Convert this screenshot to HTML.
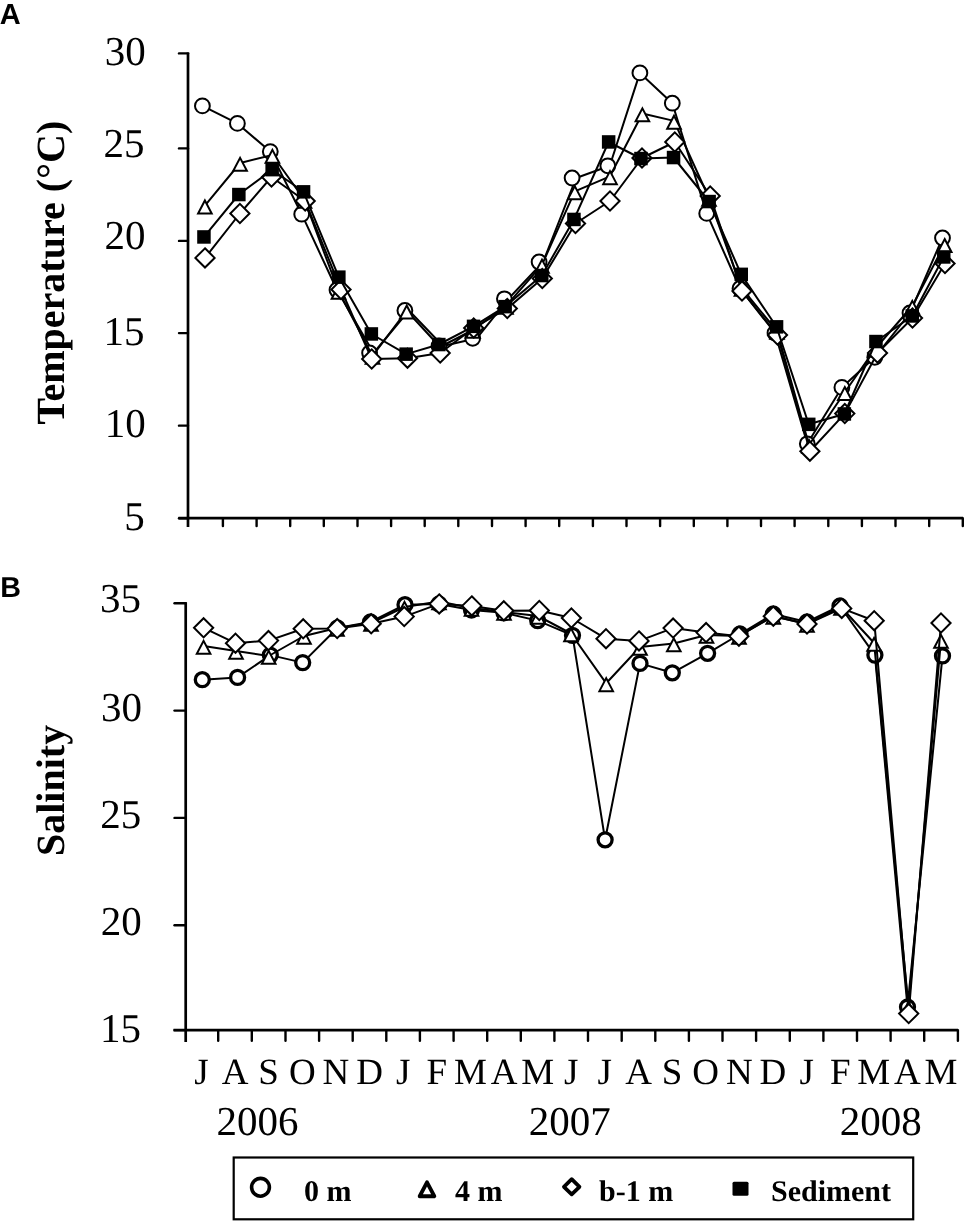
<!DOCTYPE html>
<html><head><meta charset="utf-8"><style>html,body{margin:0;padding:0;background:#fff;}svg{display:block;filter:grayscale(100%);text-rendering:geometricPrecision;}</style></head><body>
<svg width="964" height="1221" viewBox="0 0 964 1221">
<rect width="964" height="1221" fill="#fff"/>
<text x="-0.3" y="24" font-family="Liberation Sans, sans-serif" font-weight="bold" font-size="29">A</text>
<text x="0.3" y="597" font-family="Liberation Sans, sans-serif" font-weight="bold" font-size="28.7">B</text>
<line x1="188.0" y1="52.4" x2="188.0" y2="527" stroke="#000" stroke-width="2.7"/>
<line x1="179" y1="53.4" x2="188.0" y2="53.4" stroke="#000" stroke-width="2.4" stroke-linecap="round"/>
<line x1="179" y1="148.4" x2="188.0" y2="148.4" stroke="#000" stroke-width="2.4" stroke-linecap="round"/>
<line x1="179" y1="240.9" x2="188.0" y2="240.9" stroke="#000" stroke-width="2.4" stroke-linecap="round"/>
<line x1="179" y1="333.1" x2="188.0" y2="333.1" stroke="#000" stroke-width="2.4" stroke-linecap="round"/>
<line x1="179" y1="425.65" x2="188.0" y2="425.65" stroke="#000" stroke-width="2.4" stroke-linecap="round"/>
<line x1="179" y1="518.2" x2="188.0" y2="518.2" stroke="#000" stroke-width="2.4" stroke-linecap="round"/>
<line x1="178.5" y1="518.2" x2="963" y2="518.2" stroke="#000" stroke-width="2.7"/>
<line x1="222.9" y1="518.2" x2="222.9" y2="526" stroke="#000" stroke-width="2.4" stroke-linecap="round"/>
<line x1="256.6" y1="518.2" x2="256.6" y2="526" stroke="#000" stroke-width="2.4" stroke-linecap="round"/>
<line x1="290.2" y1="518.2" x2="290.2" y2="526" stroke="#000" stroke-width="2.4" stroke-linecap="round"/>
<line x1="323.8" y1="518.2" x2="323.8" y2="526" stroke="#000" stroke-width="2.4" stroke-linecap="round"/>
<line x1="357.5" y1="518.2" x2="357.5" y2="526" stroke="#000" stroke-width="2.4" stroke-linecap="round"/>
<line x1="391.1" y1="518.2" x2="391.1" y2="526" stroke="#000" stroke-width="2.4" stroke-linecap="round"/>
<line x1="424.7" y1="518.2" x2="424.7" y2="526" stroke="#000" stroke-width="2.4" stroke-linecap="round"/>
<line x1="458.3" y1="518.2" x2="458.3" y2="526" stroke="#000" stroke-width="2.4" stroke-linecap="round"/>
<line x1="492.0" y1="518.2" x2="492.0" y2="526" stroke="#000" stroke-width="2.4" stroke-linecap="round"/>
<line x1="525.6" y1="518.2" x2="525.6" y2="526" stroke="#000" stroke-width="2.4" stroke-linecap="round"/>
<line x1="559.2" y1="518.2" x2="559.2" y2="526" stroke="#000" stroke-width="2.4" stroke-linecap="round"/>
<line x1="592.9" y1="518.2" x2="592.9" y2="526" stroke="#000" stroke-width="2.4" stroke-linecap="round"/>
<line x1="626.5" y1="518.2" x2="626.5" y2="526" stroke="#000" stroke-width="2.4" stroke-linecap="round"/>
<line x1="660.1" y1="518.2" x2="660.1" y2="526" stroke="#000" stroke-width="2.4" stroke-linecap="round"/>
<line x1="693.8" y1="518.2" x2="693.8" y2="526" stroke="#000" stroke-width="2.4" stroke-linecap="round"/>
<line x1="727.4" y1="518.2" x2="727.4" y2="526" stroke="#000" stroke-width="2.4" stroke-linecap="round"/>
<line x1="761.0" y1="518.2" x2="761.0" y2="526" stroke="#000" stroke-width="2.4" stroke-linecap="round"/>
<line x1="794.6" y1="518.2" x2="794.6" y2="526" stroke="#000" stroke-width="2.4" stroke-linecap="round"/>
<line x1="828.3" y1="518.2" x2="828.3" y2="526" stroke="#000" stroke-width="2.4" stroke-linecap="round"/>
<line x1="861.9" y1="518.2" x2="861.9" y2="526" stroke="#000" stroke-width="2.4" stroke-linecap="round"/>
<line x1="895.5" y1="518.2" x2="895.5" y2="526" stroke="#000" stroke-width="2.4" stroke-linecap="round"/>
<line x1="929.2" y1="518.2" x2="929.2" y2="526" stroke="#000" stroke-width="2.4" stroke-linecap="round"/>
<line x1="962.8" y1="518.2" x2="962.8" y2="526" stroke="#000" stroke-width="2.4" stroke-linecap="round"/>
<text x="145.8" y="65.2" text-anchor="end" font-family="Liberation Serif, serif" font-size="41">30</text>
<text x="144.5" y="157.2" text-anchor="end" font-family="Liberation Serif, serif" font-size="41">25</text>
<text x="145.5" y="249.3" text-anchor="end" font-family="Liberation Serif, serif" font-size="41">20</text>
<text x="144.5" y="345.3" text-anchor="end" font-family="Liberation Serif, serif" font-size="41">15</text>
<text x="145.7" y="436.7" text-anchor="end" font-family="Liberation Serif, serif" font-size="41">10</text>
<text x="144.8" y="529.7" text-anchor="end" font-family="Liberation Serif, serif" font-size="41">5</text>
<text transform="translate(64,424.5) rotate(-90)" font-family="Liberation Serif, serif" font-weight="bold" font-size="40">Temperature (°C)</text>
<line x1="185.7" y1="602.3" x2="185.7" y2="1042" stroke="#000" stroke-width="2.7"/>
<line x1="174.5" y1="603.3" x2="185.7" y2="603.3" stroke="#000" stroke-width="2.4" stroke-linecap="round"/>
<line x1="174.5" y1="710.6" x2="185.7" y2="710.6" stroke="#000" stroke-width="2.4" stroke-linecap="round"/>
<line x1="174.5" y1="817.9" x2="185.7" y2="817.9" stroke="#000" stroke-width="2.4" stroke-linecap="round"/>
<line x1="174.5" y1="925.3" x2="185.7" y2="925.3" stroke="#000" stroke-width="2.4" stroke-linecap="round"/>
<line x1="174.5" y1="1030.1" x2="185.7" y2="1030.1" stroke="#000" stroke-width="2.4" stroke-linecap="round"/>
<line x1="173.5" y1="1030.1" x2="958" y2="1030.1" stroke="#000" stroke-width="2.7"/>
<line x1="218.2" y1="1030.1" x2="218.2" y2="1040.8" stroke="#000" stroke-width="2.4" stroke-linecap="round"/>
<line x1="251.8" y1="1030.1" x2="251.8" y2="1040.8" stroke="#000" stroke-width="2.4" stroke-linecap="round"/>
<line x1="285.5" y1="1030.1" x2="285.5" y2="1040.8" stroke="#000" stroke-width="2.4" stroke-linecap="round"/>
<line x1="319.1" y1="1030.1" x2="319.1" y2="1040.8" stroke="#000" stroke-width="2.4" stroke-linecap="round"/>
<line x1="352.7" y1="1030.1" x2="352.7" y2="1040.8" stroke="#000" stroke-width="2.4" stroke-linecap="round"/>
<line x1="386.3" y1="1030.1" x2="386.3" y2="1040.8" stroke="#000" stroke-width="2.4" stroke-linecap="round"/>
<line x1="419.9" y1="1030.1" x2="419.9" y2="1040.8" stroke="#000" stroke-width="2.4" stroke-linecap="round"/>
<line x1="453.6" y1="1030.1" x2="453.6" y2="1040.8" stroke="#000" stroke-width="2.4" stroke-linecap="round"/>
<line x1="487.2" y1="1030.1" x2="487.2" y2="1040.8" stroke="#000" stroke-width="2.4" stroke-linecap="round"/>
<line x1="520.8" y1="1030.1" x2="520.8" y2="1040.8" stroke="#000" stroke-width="2.4" stroke-linecap="round"/>
<line x1="554.4" y1="1030.1" x2="554.4" y2="1040.8" stroke="#000" stroke-width="2.4" stroke-linecap="round"/>
<line x1="588.0" y1="1030.1" x2="588.0" y2="1040.8" stroke="#000" stroke-width="2.4" stroke-linecap="round"/>
<line x1="621.7" y1="1030.1" x2="621.7" y2="1040.8" stroke="#000" stroke-width="2.4" stroke-linecap="round"/>
<line x1="655.3" y1="1030.1" x2="655.3" y2="1040.8" stroke="#000" stroke-width="2.4" stroke-linecap="round"/>
<line x1="688.9" y1="1030.1" x2="688.9" y2="1040.8" stroke="#000" stroke-width="2.4" stroke-linecap="round"/>
<line x1="722.5" y1="1030.1" x2="722.5" y2="1040.8" stroke="#000" stroke-width="2.4" stroke-linecap="round"/>
<line x1="756.1" y1="1030.1" x2="756.1" y2="1040.8" stroke="#000" stroke-width="2.4" stroke-linecap="round"/>
<line x1="789.8" y1="1030.1" x2="789.8" y2="1040.8" stroke="#000" stroke-width="2.4" stroke-linecap="round"/>
<line x1="823.4" y1="1030.1" x2="823.4" y2="1040.8" stroke="#000" stroke-width="2.4" stroke-linecap="round"/>
<line x1="857.0" y1="1030.1" x2="857.0" y2="1040.8" stroke="#000" stroke-width="2.4" stroke-linecap="round"/>
<line x1="890.6" y1="1030.1" x2="890.6" y2="1040.8" stroke="#000" stroke-width="2.4" stroke-linecap="round"/>
<line x1="924.2" y1="1030.1" x2="924.2" y2="1040.8" stroke="#000" stroke-width="2.4" stroke-linecap="round"/>
<line x1="957.9" y1="1030.1" x2="957.9" y2="1040.8" stroke="#000" stroke-width="2.4" stroke-linecap="round"/>
<text x="141.0" y="612.2" text-anchor="end" font-family="Liberation Serif, serif" font-size="41">35</text>
<text x="142.0" y="720.5" text-anchor="end" font-family="Liberation Serif, serif" font-size="41">30</text>
<text x="141.3" y="827.8" text-anchor="end" font-family="Liberation Serif, serif" font-size="41">25</text>
<text x="141.8" y="935.2" text-anchor="end" font-family="Liberation Serif, serif" font-size="41">20</text>
<text x="141.0" y="1041.6" text-anchor="end" font-family="Liberation Serif, serif" font-size="41">15</text>
<text transform="translate(64,856) rotate(-90)" font-family="Liberation Serif, serif" font-weight="bold" font-size="40">Salinity</text>
<text x="201.4" y="1083.5" text-anchor="middle" font-family="Liberation Serif, serif" font-size="37">J</text>
<text x="235.0" y="1083.5" text-anchor="middle" font-family="Liberation Serif, serif" font-size="37">A</text>
<text x="268.6" y="1083.5" text-anchor="middle" font-family="Liberation Serif, serif" font-size="37">S</text>
<text x="302.3" y="1083.5" text-anchor="middle" font-family="Liberation Serif, serif" font-size="37">O</text>
<text x="335.9" y="1083.5" text-anchor="middle" font-family="Liberation Serif, serif" font-size="37">N</text>
<text x="369.5" y="1083.5" text-anchor="middle" font-family="Liberation Serif, serif" font-size="37">D</text>
<text x="403.1" y="1083.5" text-anchor="middle" font-family="Liberation Serif, serif" font-size="37">J</text>
<text x="436.8" y="1083.5" text-anchor="middle" font-family="Liberation Serif, serif" font-size="37">F</text>
<text x="470.4" y="1083.5" text-anchor="middle" font-family="Liberation Serif, serif" font-size="37">M</text>
<text x="504.0" y="1083.5" text-anchor="middle" font-family="Liberation Serif, serif" font-size="37">A</text>
<text x="537.6" y="1083.5" text-anchor="middle" font-family="Liberation Serif, serif" font-size="37">M</text>
<text x="571.2" y="1083.5" text-anchor="middle" font-family="Liberation Serif, serif" font-size="37">J</text>
<text x="604.8" y="1083.5" text-anchor="middle" font-family="Liberation Serif, serif" font-size="37">J</text>
<text x="638.5" y="1083.5" text-anchor="middle" font-family="Liberation Serif, serif" font-size="37">A</text>
<text x="672.1" y="1083.5" text-anchor="middle" font-family="Liberation Serif, serif" font-size="37">S</text>
<text x="705.7" y="1083.5" text-anchor="middle" font-family="Liberation Serif, serif" font-size="37">O</text>
<text x="739.3" y="1083.5" text-anchor="middle" font-family="Liberation Serif, serif" font-size="37">N</text>
<text x="772.9" y="1083.5" text-anchor="middle" font-family="Liberation Serif, serif" font-size="37">D</text>
<text x="806.6" y="1083.5" text-anchor="middle" font-family="Liberation Serif, serif" font-size="37">J</text>
<text x="840.2" y="1083.5" text-anchor="middle" font-family="Liberation Serif, serif" font-size="37">F</text>
<text x="873.8" y="1083.5" text-anchor="middle" font-family="Liberation Serif, serif" font-size="37">M</text>
<text x="907.4" y="1083.5" text-anchor="middle" font-family="Liberation Serif, serif" font-size="37">A</text>
<text x="941.0" y="1083.5" text-anchor="middle" font-family="Liberation Serif, serif" font-size="37">M</text>
<text x="216.4" y="1135" font-family="Liberation Serif, serif" font-size="41">2006</text>
<text x="528.8" y="1135" font-family="Liberation Serif, serif" font-size="41">2007</text>
<text x="839.7" y="1135" font-family="Liberation Serif, serif" font-size="41">2008</text>
<polyline points="202.4,105.9 237.4,123.4 270.3,151.6 301.7,214.2 337.0,290.0 373.6,353.0 408.9,310.5 443.0,346.0 476.7,338.3 508.4,298.8 543.1,262.0 576.1,178.0 609.8,165.8 639.9,72.9 672.3,103.2 706.7,213.4 740.0,288.5 775.0,333.0 807.3,443.8 841.9,387.4 874.8,357.3 910.0,313.0 942.5,238.0" fill="none" stroke="#000" stroke-width="2.0" stroke-linejoin="round"/>
<circle cx="202.4" cy="105.9" r="7.4" fill="#fff" stroke="#000" stroke-width="2.0"/>
<circle cx="237.4" cy="123.4" r="7.4" fill="#fff" stroke="#000" stroke-width="2.0"/>
<circle cx="270.3" cy="151.6" r="7.4" fill="#fff" stroke="#000" stroke-width="2.0"/>
<circle cx="301.7" cy="214.2" r="7.4" fill="#fff" stroke="#000" stroke-width="2.0"/>
<circle cx="337.0" cy="290.0" r="7.4" fill="#fff" stroke="#000" stroke-width="2.0"/>
<circle cx="369.6" cy="353.0" r="7.4" fill="#fff" stroke="#000" stroke-width="2.0"/>
<circle cx="404.9" cy="310.5" r="7.4" fill="#fff" stroke="#000" stroke-width="2.0"/>
<circle cx="439.0" cy="346.0" r="7.4" fill="#fff" stroke="#000" stroke-width="2.0"/>
<circle cx="472.7" cy="338.3" r="7.4" fill="#fff" stroke="#000" stroke-width="2.0"/>
<circle cx="504.4" cy="298.8" r="7.4" fill="#fff" stroke="#000" stroke-width="2.0"/>
<circle cx="539.1" cy="262.0" r="7.4" fill="#fff" stroke="#000" stroke-width="2.0"/>
<circle cx="572.1" cy="178.0" r="7.4" fill="#fff" stroke="#000" stroke-width="2.0"/>
<circle cx="607.8" cy="165.8" r="7.4" fill="#fff" stroke="#000" stroke-width="2.0"/>
<circle cx="639.9" cy="72.9" r="7.4" fill="#fff" stroke="#000" stroke-width="2.0"/>
<circle cx="672.3" cy="103.2" r="7.4" fill="#fff" stroke="#000" stroke-width="2.0"/>
<circle cx="706.7" cy="213.4" r="7.4" fill="#fff" stroke="#000" stroke-width="2.0"/>
<circle cx="740.0" cy="288.5" r="7.4" fill="#fff" stroke="#000" stroke-width="2.0"/>
<circle cx="775.0" cy="333.0" r="7.4" fill="#fff" stroke="#000" stroke-width="2.0"/>
<circle cx="807.3" cy="443.8" r="7.4" fill="#fff" stroke="#000" stroke-width="2.0"/>
<circle cx="841.9" cy="387.4" r="7.4" fill="#fff" stroke="#000" stroke-width="2.0"/>
<circle cx="874.8" cy="357.3" r="7.4" fill="#fff" stroke="#000" stroke-width="2.0"/>
<circle cx="910.0" cy="313.0" r="7.4" fill="#fff" stroke="#000" stroke-width="2.0"/>
<circle cx="942.5" cy="238.0" r="7.4" fill="#fff" stroke="#000" stroke-width="2.0"/>
<polyline points="204.9,205.6 240.1,163.0 272.4,155.0 304.5,200.0 338.5,291.0 372.5,356.0 406.7,310.7 440.0,347.0 473.0,330.0 506.0,306.0 542.0,264.8 574.8,191.3 610.0,176.3 642.4,113.5 674.0,120.9 709.0,198.0 741.5,288.0 777.0,331.0 809.0,445.0 844.8,392.2 875.0,349.0 912.3,306.0 944.7,244.2" fill="none" stroke="#000" stroke-width="2.0" stroke-linejoin="round"/>
<path d="M204.90,200.45 L211.70,213.45 L198.10,213.45Z" fill="#fff" stroke="#000" stroke-width="2.0" stroke-linejoin="miter" stroke-miterlimit="10"/>
<path d="M240.10,157.85 L246.90,170.85 L233.30,170.85Z" fill="#fff" stroke="#000" stroke-width="2.0" stroke-linejoin="miter" stroke-miterlimit="10"/>
<path d="M272.40,149.85 L279.20,162.85 L265.60,162.85Z" fill="#fff" stroke="#000" stroke-width="2.0" stroke-linejoin="miter" stroke-miterlimit="10"/>
<path d="M304.50,194.85 L311.30,207.85 L297.70,207.85Z" fill="#fff" stroke="#000" stroke-width="2.0" stroke-linejoin="miter" stroke-miterlimit="10"/>
<path d="M338.50,285.85 L345.30,298.85 L331.70,298.85Z" fill="#fff" stroke="#000" stroke-width="2.0" stroke-linejoin="miter" stroke-miterlimit="10"/>
<path d="M372.50,350.85 L379.30,363.85 L365.70,363.85Z" fill="#fff" stroke="#000" stroke-width="2.0" stroke-linejoin="miter" stroke-miterlimit="10"/>
<path d="M406.70,305.55 L413.50,318.55 L399.90,318.55Z" fill="#fff" stroke="#000" stroke-width="2.0" stroke-linejoin="miter" stroke-miterlimit="10"/>
<path d="M440.00,341.85 L446.80,354.85 L433.20,354.85Z" fill="#fff" stroke="#000" stroke-width="2.0" stroke-linejoin="miter" stroke-miterlimit="10"/>
<path d="M473.00,324.85 L479.80,337.85 L466.20,337.85Z" fill="#fff" stroke="#000" stroke-width="2.0" stroke-linejoin="miter" stroke-miterlimit="10"/>
<path d="M506.00,300.85 L512.80,313.85 L499.20,313.85Z" fill="#fff" stroke="#000" stroke-width="2.0" stroke-linejoin="miter" stroke-miterlimit="10"/>
<path d="M542.00,259.65 L548.80,272.65 L535.20,272.65Z" fill="#fff" stroke="#000" stroke-width="2.0" stroke-linejoin="miter" stroke-miterlimit="10"/>
<path d="M574.80,186.15 L581.60,199.15 L568.00,199.15Z" fill="#fff" stroke="#000" stroke-width="2.0" stroke-linejoin="miter" stroke-miterlimit="10"/>
<path d="M610.00,171.15 L616.80,184.15 L603.20,184.15Z" fill="#fff" stroke="#000" stroke-width="2.0" stroke-linejoin="miter" stroke-miterlimit="10"/>
<path d="M642.40,108.35 L649.20,121.35 L635.60,121.35Z" fill="#fff" stroke="#000" stroke-width="2.0" stroke-linejoin="miter" stroke-miterlimit="10"/>
<path d="M674.00,115.75 L680.80,128.75 L667.20,128.75Z" fill="#fff" stroke="#000" stroke-width="2.0" stroke-linejoin="miter" stroke-miterlimit="10"/>
<path d="M709.00,192.85 L715.80,205.85 L702.20,205.85Z" fill="#fff" stroke="#000" stroke-width="2.0" stroke-linejoin="miter" stroke-miterlimit="10"/>
<path d="M741.50,282.85 L748.30,295.85 L734.70,295.85Z" fill="#fff" stroke="#000" stroke-width="2.0" stroke-linejoin="miter" stroke-miterlimit="10"/>
<path d="M777.00,325.85 L783.80,338.85 L770.20,338.85Z" fill="#fff" stroke="#000" stroke-width="2.0" stroke-linejoin="miter" stroke-miterlimit="10"/>
<path d="M809.00,439.85 L815.80,452.85 L802.20,452.85Z" fill="#fff" stroke="#000" stroke-width="2.0" stroke-linejoin="miter" stroke-miterlimit="10"/>
<path d="M844.80,387.05 L851.60,400.05 L838.00,400.05Z" fill="#fff" stroke="#000" stroke-width="2.0" stroke-linejoin="miter" stroke-miterlimit="10"/>
<path d="M875.00,343.85 L881.80,356.85 L868.20,356.85Z" fill="#fff" stroke="#000" stroke-width="2.0" stroke-linejoin="miter" stroke-miterlimit="10"/>
<path d="M912.30,300.85 L919.10,313.85 L905.50,313.85Z" fill="#fff" stroke="#000" stroke-width="2.0" stroke-linejoin="miter" stroke-miterlimit="10"/>
<path d="M944.70,239.05 L951.50,252.05 L937.90,252.05Z" fill="#fff" stroke="#000" stroke-width="2.0" stroke-linejoin="miter" stroke-miterlimit="10"/>
<polyline points="205.0,257.9 239.9,213.5 271.5,177.0 305.2,201.0 341.0,289.5 371.7,359.0 407.5,358.2 440.2,353.0 473.7,328.0 507.3,308.5 542.3,278.5 575.5,223.5 610.0,201.0 642.0,158.0 674.8,142.0 710.2,196.0 742.0,291.0 777.5,335.0 809.9,451.2 844.8,413.6 877.5,353.0 912.5,318.0 945.0,263.5" fill="none" stroke="#000" stroke-width="2.0" stroke-linejoin="round"/>
<path d="M205.0,248.3 L214.6,257.9 L205.0,267.5 L195.4,257.9Z" fill="#fff" stroke="#000" stroke-width="2.0" stroke-linejoin="miter"/>
<path d="M239.9,203.9 L249.5,213.5 L239.9,223.1 L230.3,213.5Z" fill="#fff" stroke="#000" stroke-width="2.0" stroke-linejoin="miter"/>
<path d="M271.5,167.4 L281.1,177.0 L271.5,186.6 L261.9,177.0Z" fill="#fff" stroke="#000" stroke-width="2.0" stroke-linejoin="miter"/>
<path d="M305.2,191.4 L314.8,201.0 L305.2,210.6 L295.6,201.0Z" fill="#fff" stroke="#000" stroke-width="2.0" stroke-linejoin="miter"/>
<path d="M341.0,279.9 L350.6,289.5 L341.0,299.1 L331.4,289.5Z" fill="#fff" stroke="#000" stroke-width="2.0" stroke-linejoin="miter"/>
<path d="M371.7,349.4 L381.3,359.0 L371.7,368.6 L362.1,359.0Z" fill="#fff" stroke="#000" stroke-width="2.0" stroke-linejoin="miter"/>
<path d="M407.5,348.6 L417.1,358.2 L407.5,367.8 L397.9,358.2Z" fill="#fff" stroke="#000" stroke-width="2.0" stroke-linejoin="miter"/>
<path d="M440.2,343.4 L449.8,353.0 L440.2,362.6 L430.6,353.0Z" fill="#fff" stroke="#000" stroke-width="2.0" stroke-linejoin="miter"/>
<path d="M473.7,318.4 L483.3,328.0 L473.7,337.6 L464.1,328.0Z" fill="#fff" stroke="#000" stroke-width="2.0" stroke-linejoin="miter"/>
<path d="M507.3,298.9 L516.9,308.5 L507.3,318.1 L497.7,308.5Z" fill="#fff" stroke="#000" stroke-width="2.0" stroke-linejoin="miter"/>
<path d="M542.3,268.9 L551.9,278.5 L542.3,288.1 L532.7,278.5Z" fill="#fff" stroke="#000" stroke-width="2.0" stroke-linejoin="miter"/>
<path d="M575.5,213.9 L585.1,223.5 L575.5,233.1 L565.9,223.5Z" fill="#fff" stroke="#000" stroke-width="2.0" stroke-linejoin="miter"/>
<path d="M610.0,191.4 L619.6,201.0 L610.0,210.6 L600.4,201.0Z" fill="#fff" stroke="#000" stroke-width="2.0" stroke-linejoin="miter"/>
<path d="M642.0,148.4 L651.6,158.0 L642.0,167.6 L632.4,158.0Z" fill="#fff" stroke="#000" stroke-width="2.0" stroke-linejoin="miter"/>
<path d="M674.8,132.4 L684.4,142.0 L674.8,151.6 L665.2,142.0Z" fill="#fff" stroke="#000" stroke-width="2.0" stroke-linejoin="miter"/>
<path d="M710.2,186.4 L719.8,196.0 L710.2,205.6 L700.6,196.0Z" fill="#fff" stroke="#000" stroke-width="2.0" stroke-linejoin="miter"/>
<path d="M742.0,281.4 L751.6,291.0 L742.0,300.6 L732.4,291.0Z" fill="#fff" stroke="#000" stroke-width="2.0" stroke-linejoin="miter"/>
<path d="M777.5,325.4 L787.1,335.0 L777.5,344.6 L767.9,335.0Z" fill="#fff" stroke="#000" stroke-width="2.0" stroke-linejoin="miter"/>
<path d="M809.9,441.6 L819.5,451.2 L809.9,460.8 L800.3,451.2Z" fill="#fff" stroke="#000" stroke-width="2.0" stroke-linejoin="miter"/>
<path d="M844.8,404.0 L854.4,413.6 L844.8,423.2 L835.2,413.6Z" fill="#fff" stroke="#000" stroke-width="2.0" stroke-linejoin="miter"/>
<path d="M877.5,343.4 L887.1,353.0 L877.5,362.6 L867.9,353.0Z" fill="#fff" stroke="#000" stroke-width="2.0" stroke-linejoin="miter"/>
<path d="M912.5,308.4 L922.1,318.0 L912.5,327.6 L902.9,318.0Z" fill="#fff" stroke="#000" stroke-width="2.0" stroke-linejoin="miter"/>
<path d="M945.0,253.9 L954.6,263.5 L945.0,273.1 L935.4,263.5Z" fill="#fff" stroke="#000" stroke-width="2.0" stroke-linejoin="miter"/>
<polyline points="204.0,236.9 238.8,194.5 272.2,169.7 303.5,191.8 338.8,277.1 371.4,334.0 406.2,354.1 438.8,344.5 473.5,326.3 505.1,306.6 541.8,275.5 574.0,219.4 608.6,142.0 641.0,158.5 673.5,157.5 709.1,201.5 741.2,274.4 776.5,326.8 808.7,424.3 844.4,414.0 876.0,341.5 912.3,316.0 943.7,257.0" fill="none" stroke="#000" stroke-width="2.0" stroke-linejoin="round"/>
<rect x="197.2" y="230.2" width="13.5" height="13.5" fill="#000"/>
<rect x="232.1" y="187.8" width="13.5" height="13.5" fill="#000"/>
<rect x="265.4" y="162.9" width="13.5" height="13.5" fill="#000"/>
<rect x="296.8" y="185.1" width="13.5" height="13.5" fill="#000"/>
<rect x="332.1" y="270.4" width="13.5" height="13.5" fill="#000"/>
<rect x="364.6" y="327.2" width="13.5" height="13.5" fill="#000"/>
<rect x="399.4" y="347.4" width="13.5" height="13.5" fill="#000"/>
<rect x="432.1" y="337.8" width="13.5" height="13.5" fill="#000"/>
<rect x="466.8" y="319.6" width="13.5" height="13.5" fill="#000"/>
<rect x="498.4" y="299.9" width="13.5" height="13.5" fill="#000"/>
<rect x="535.0" y="268.8" width="13.5" height="13.5" fill="#000"/>
<rect x="567.2" y="212.7" width="13.5" height="13.5" fill="#000"/>
<rect x="601.9" y="135.2" width="13.5" height="13.5" fill="#000"/>
<rect x="634.2" y="151.8" width="13.5" height="13.5" fill="#000"/>
<rect x="666.8" y="150.8" width="13.5" height="13.5" fill="#000"/>
<rect x="702.4" y="194.8" width="13.5" height="13.5" fill="#000"/>
<rect x="734.5" y="267.6" width="13.5" height="13.5" fill="#000"/>
<rect x="769.8" y="320.1" width="13.5" height="13.5" fill="#000"/>
<rect x="802.0" y="417.6" width="13.5" height="13.5" fill="#000"/>
<rect x="837.6" y="407.2" width="13.5" height="13.5" fill="#000"/>
<rect x="869.2" y="334.8" width="13.5" height="13.5" fill="#000"/>
<rect x="905.5" y="309.2" width="13.5" height="13.5" fill="#000"/>
<rect x="937.0" y="250.2" width="13.5" height="13.5" fill="#000"/>
<polyline points="202.3,679.7 237.6,677.4 270.3,655.1 302.7,662.6 337.4,628.0 370.5,622.0 405.0,604.7 439.0,604.0 471.5,610.0 504.0,612.8 537.7,620.6 572.5,635.3 605.1,839.8 640.0,663.4 672.3,672.8 707.6,653.3 740.0,634.0 773.3,614.0 807.0,622.0 840.0,606.0 874.9,655.1 907.5,1007.0 942.5,655.9" fill="none" stroke="#000" stroke-width="2.0" stroke-linejoin="round"/>
<circle cx="202.3" cy="679.7" r="7.0" fill="#fff" stroke="#000" stroke-width="3.3"/>
<circle cx="237.6" cy="677.4" r="7.0" fill="#fff" stroke="#000" stroke-width="3.3"/>
<circle cx="270.3" cy="655.1" r="7.0" fill="#fff" stroke="#000" stroke-width="3.3"/>
<circle cx="302.7" cy="662.6" r="7.0" fill="#fff" stroke="#000" stroke-width="3.3"/>
<circle cx="337.4" cy="628.0" r="7.0" fill="#fff" stroke="#000" stroke-width="3.3"/>
<circle cx="370.5" cy="622.0" r="7.0" fill="#fff" stroke="#000" stroke-width="3.3"/>
<circle cx="405.0" cy="604.7" r="7.0" fill="#fff" stroke="#000" stroke-width="3.3"/>
<circle cx="439.0" cy="604.0" r="7.0" fill="#fff" stroke="#000" stroke-width="3.3"/>
<circle cx="471.5" cy="610.0" r="7.0" fill="#fff" stroke="#000" stroke-width="3.3"/>
<circle cx="504.0" cy="612.8" r="7.0" fill="#fff" stroke="#000" stroke-width="3.3"/>
<circle cx="537.7" cy="620.6" r="7.0" fill="#fff" stroke="#000" stroke-width="3.3"/>
<circle cx="572.5" cy="635.3" r="7.0" fill="#fff" stroke="#000" stroke-width="3.3"/>
<circle cx="605.1" cy="839.8" r="7.0" fill="#fff" stroke="#000" stroke-width="3.3"/>
<circle cx="640.0" cy="663.4" r="7.0" fill="#fff" stroke="#000" stroke-width="3.3"/>
<circle cx="672.3" cy="672.8" r="7.0" fill="#fff" stroke="#000" stroke-width="3.3"/>
<circle cx="707.6" cy="653.3" r="7.0" fill="#fff" stroke="#000" stroke-width="3.3"/>
<circle cx="740.0" cy="634.0" r="7.0" fill="#fff" stroke="#000" stroke-width="3.3"/>
<circle cx="773.3" cy="614.0" r="7.0" fill="#fff" stroke="#000" stroke-width="3.3"/>
<circle cx="807.0" cy="622.0" r="7.0" fill="#fff" stroke="#000" stroke-width="3.3"/>
<circle cx="840.0" cy="606.0" r="7.0" fill="#fff" stroke="#000" stroke-width="3.3"/>
<circle cx="874.9" cy="655.1" r="7.0" fill="#fff" stroke="#000" stroke-width="3.3"/>
<circle cx="907.5" cy="1007.0" r="7.0" fill="#fff" stroke="#000" stroke-width="3.3"/>
<circle cx="942.5" cy="655.9" r="7.0" fill="#fff" stroke="#000" stroke-width="3.3"/>
<polyline points="203.6,646.0 236.0,651.0 268.7,656.0 304.0,636.0 337.0,628.0 371.0,623.0 404.5,607.0 439.0,601.5 471.5,608.0 504.0,612.0 538.0,616.0 571.0,633.5 606.2,683.3 640.0,647.0 673.8,643.5 706.5,635.0 739.0,636.0 773.3,616.0 807.0,624.0 841.0,607.0 874.1,643.0 908.5,1007.0 941.0,640.0" fill="none" stroke="#000" stroke-width="2.0" stroke-linejoin="round"/>
<path d="M203.60,640.85 L210.40,653.85 L196.80,653.85Z" fill="#fff" stroke="#000" stroke-width="2.0" stroke-linejoin="miter" stroke-miterlimit="10"/>
<path d="M236.00,645.85 L242.80,658.85 L229.20,658.85Z" fill="#fff" stroke="#000" stroke-width="2.0" stroke-linejoin="miter" stroke-miterlimit="10"/>
<path d="M268.70,650.85 L275.50,663.85 L261.90,663.85Z" fill="#fff" stroke="#000" stroke-width="2.0" stroke-linejoin="miter" stroke-miterlimit="10"/>
<path d="M304.00,630.85 L310.80,643.85 L297.20,643.85Z" fill="#fff" stroke="#000" stroke-width="2.0" stroke-linejoin="miter" stroke-miterlimit="10"/>
<path d="M337.00,622.85 L343.80,635.85 L330.20,635.85Z" fill="#fff" stroke="#000" stroke-width="2.0" stroke-linejoin="miter" stroke-miterlimit="10"/>
<path d="M371.00,617.85 L377.80,630.85 L364.20,630.85Z" fill="#fff" stroke="#000" stroke-width="2.0" stroke-linejoin="miter" stroke-miterlimit="10"/>
<path d="M404.50,601.85 L411.30,614.85 L397.70,614.85Z" fill="#fff" stroke="#000" stroke-width="2.0" stroke-linejoin="miter" stroke-miterlimit="10"/>
<path d="M439.00,596.35 L445.80,609.35 L432.20,609.35Z" fill="#fff" stroke="#000" stroke-width="2.0" stroke-linejoin="miter" stroke-miterlimit="10"/>
<path d="M471.50,602.85 L478.30,615.85 L464.70,615.85Z" fill="#fff" stroke="#000" stroke-width="2.0" stroke-linejoin="miter" stroke-miterlimit="10"/>
<path d="M504.00,606.85 L510.80,619.85 L497.20,619.85Z" fill="#fff" stroke="#000" stroke-width="2.0" stroke-linejoin="miter" stroke-miterlimit="10"/>
<path d="M538.00,610.85 L544.80,623.85 L531.20,623.85Z" fill="#fff" stroke="#000" stroke-width="2.0" stroke-linejoin="miter" stroke-miterlimit="10"/>
<path d="M571.00,628.35 L577.80,641.35 L564.20,641.35Z" fill="#fff" stroke="#000" stroke-width="2.0" stroke-linejoin="miter" stroke-miterlimit="10"/>
<path d="M606.20,678.15 L613.00,691.15 L599.40,691.15Z" fill="#fff" stroke="#000" stroke-width="2.0" stroke-linejoin="miter" stroke-miterlimit="10"/>
<path d="M640.00,641.85 L646.80,654.85 L633.20,654.85Z" fill="#fff" stroke="#000" stroke-width="2.0" stroke-linejoin="miter" stroke-miterlimit="10"/>
<path d="M673.80,638.35 L680.60,651.35 L667.00,651.35Z" fill="#fff" stroke="#000" stroke-width="2.0" stroke-linejoin="miter" stroke-miterlimit="10"/>
<path d="M706.50,629.85 L713.30,642.85 L699.70,642.85Z" fill="#fff" stroke="#000" stroke-width="2.0" stroke-linejoin="miter" stroke-miterlimit="10"/>
<path d="M739.00,630.85 L745.80,643.85 L732.20,643.85Z" fill="#fff" stroke="#000" stroke-width="2.0" stroke-linejoin="miter" stroke-miterlimit="10"/>
<path d="M773.30,610.85 L780.10,623.85 L766.50,623.85Z" fill="#fff" stroke="#000" stroke-width="2.0" stroke-linejoin="miter" stroke-miterlimit="10"/>
<path d="M807.00,618.85 L813.80,631.85 L800.20,631.85Z" fill="#fff" stroke="#000" stroke-width="2.0" stroke-linejoin="miter" stroke-miterlimit="10"/>
<path d="M841.00,601.85 L847.80,614.85 L834.20,614.85Z" fill="#fff" stroke="#000" stroke-width="2.0" stroke-linejoin="miter" stroke-miterlimit="10"/>
<path d="M874.10,637.85 L880.90,650.85 L867.30,650.85Z" fill="#fff" stroke="#000" stroke-width="2.0" stroke-linejoin="miter" stroke-miterlimit="10"/>
<path d="M908.50,1001.85 L915.30,1014.85 L901.70,1014.85Z" fill="#fff" stroke="#000" stroke-width="2.0" stroke-linejoin="miter" stroke-miterlimit="10"/>
<path d="M941.00,634.85 L947.80,647.85 L934.20,647.85Z" fill="#fff" stroke="#000" stroke-width="2.0" stroke-linejoin="miter" stroke-miterlimit="10"/>
<polyline points="203.6,627.8 235.5,643.2 268.5,640.6 303.2,628.8 337.2,628.6 371.2,623.8 404.2,616.6 439.2,603.9 471.8,605.9 503.8,610.8 539.3,610.5 571.4,618.0 606.0,638.7 639.0,640.9 673.1,628.1 706.1,632.6 738.9,636.2 773.3,616.2 807.0,624.0 841.7,608.4 874.2,620.7 908.7,1013.6 941.0,623.0" fill="none" stroke="#000" stroke-width="2.0" stroke-linejoin="round"/>
<path d="M203.6,618.2 L213.2,627.8 L203.6,637.4 L194.0,627.8Z" fill="#fff" stroke="#000" stroke-width="2.0" stroke-linejoin="miter"/>
<path d="M235.5,633.6 L245.1,643.2 L235.5,652.8 L225.9,643.2Z" fill="#fff" stroke="#000" stroke-width="2.0" stroke-linejoin="miter"/>
<path d="M268.5,631.0 L278.1,640.6 L268.5,650.2 L258.9,640.6Z" fill="#fff" stroke="#000" stroke-width="2.0" stroke-linejoin="miter"/>
<path d="M303.2,619.2 L312.8,628.8 L303.2,638.4 L293.6,628.8Z" fill="#fff" stroke="#000" stroke-width="2.0" stroke-linejoin="miter"/>
<path d="M337.2,619.0 L346.8,628.6 L337.2,638.2 L327.6,628.6Z" fill="#fff" stroke="#000" stroke-width="2.0" stroke-linejoin="miter"/>
<path d="M371.2,614.2 L380.8,623.8 L371.2,633.4 L361.6,623.8Z" fill="#fff" stroke="#000" stroke-width="2.0" stroke-linejoin="miter"/>
<path d="M404.2,607.0 L413.8,616.6 L404.2,626.2 L394.6,616.6Z" fill="#fff" stroke="#000" stroke-width="2.0" stroke-linejoin="miter"/>
<path d="M439.2,594.3 L448.8,603.9 L439.2,613.5 L429.6,603.9Z" fill="#fff" stroke="#000" stroke-width="2.0" stroke-linejoin="miter"/>
<path d="M471.8,596.3 L481.4,605.9 L471.8,615.5 L462.2,605.9Z" fill="#fff" stroke="#000" stroke-width="2.0" stroke-linejoin="miter"/>
<path d="M503.8,601.2 L513.4,610.8 L503.8,620.4 L494.2,610.8Z" fill="#fff" stroke="#000" stroke-width="2.0" stroke-linejoin="miter"/>
<path d="M539.3,600.9 L548.9,610.5 L539.3,620.1 L529.7,610.5Z" fill="#fff" stroke="#000" stroke-width="2.0" stroke-linejoin="miter"/>
<path d="M571.4,608.4 L581.0,618.0 L571.4,627.6 L561.8,618.0Z" fill="#fff" stroke="#000" stroke-width="2.0" stroke-linejoin="miter"/>
<path d="M606.0,629.1 L615.6,638.7 L606.0,648.3 L596.4,638.7Z" fill="#fff" stroke="#000" stroke-width="2.0" stroke-linejoin="miter"/>
<path d="M639.0,631.3 L648.6,640.9 L639.0,650.5 L629.4,640.9Z" fill="#fff" stroke="#000" stroke-width="2.0" stroke-linejoin="miter"/>
<path d="M673.1,618.5 L682.7,628.1 L673.1,637.7 L663.5,628.1Z" fill="#fff" stroke="#000" stroke-width="2.0" stroke-linejoin="miter"/>
<path d="M706.1,623.0 L715.7,632.6 L706.1,642.2 L696.5,632.6Z" fill="#fff" stroke="#000" stroke-width="2.0" stroke-linejoin="miter"/>
<path d="M738.9,626.6 L748.5,636.2 L738.9,645.8 L729.3,636.2Z" fill="#fff" stroke="#000" stroke-width="2.0" stroke-linejoin="miter"/>
<path d="M773.3,606.6 L782.9,616.2 L773.3,625.8 L763.7,616.2Z" fill="#fff" stroke="#000" stroke-width="2.0" stroke-linejoin="miter"/>
<path d="M807.0,614.4 L816.6,624.0 L807.0,633.6 L797.4,624.0Z" fill="#fff" stroke="#000" stroke-width="2.0" stroke-linejoin="miter"/>
<path d="M841.7,598.8 L851.3,608.4 L841.7,618.0 L832.1,608.4Z" fill="#fff" stroke="#000" stroke-width="2.0" stroke-linejoin="miter"/>
<path d="M874.2,611.1 L883.8,620.7 L874.2,630.3 L864.6,620.7Z" fill="#fff" stroke="#000" stroke-width="2.0" stroke-linejoin="miter"/>
<path d="M908.7,1004.0 L918.3,1013.6 L908.7,1023.2 L899.1,1013.6Z" fill="#fff" stroke="#000" stroke-width="2.0" stroke-linejoin="miter"/>
<path d="M941.0,613.4 L950.6,623.0 L941.0,632.6 L931.4,623.0Z" fill="#fff" stroke="#000" stroke-width="2.0" stroke-linejoin="miter"/>
<rect x="233.7" y="1157.5" width="679.5" height="61.8" fill="none" stroke="#000" stroke-width="2.2"/>
<circle cx="260.5" cy="1187.3" r="8.9" fill="#fff" stroke="#000" stroke-width="3.6"/>
<text x="304" y="1200.5" font-family="Liberation Serif, serif" font-weight="bold" font-size="30">0 m</text>
<path d="M427,1182.3 L434.3,1196.2 L419.7,1196.2Z" fill="#fff" stroke="#000" stroke-width="3.9" stroke-linejoin="round"/>
<text x="455" y="1200.5" font-family="Liberation Serif, serif" font-weight="bold" font-size="30">4 m</text>
<path d="M571.7,1179.2 L579.5,1186.8 L571.7,1194.4 L563.9,1186.8Z" fill="#fff" stroke="#000" stroke-width="3.7" stroke-linejoin="round"/>
<text x="599" y="1200.5" font-family="Liberation Serif, serif" font-weight="bold" font-size="30">b-1 m</text>
<rect x="732.5" y="1181.8" width="16" height="14" rx="1.5" fill="#000"/>
<text x="771" y="1200.5" font-family="Liberation Serif, serif" font-weight="bold" font-size="30">Sediment</text>
</svg>
</body></html>
